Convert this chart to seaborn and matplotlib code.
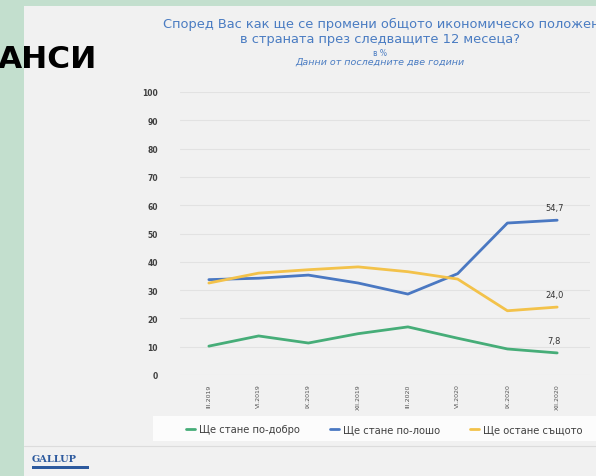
import pandas as pd
import seaborn as sns
import matplotlib.pyplot as plt
from matplotlib.patches import Rectangle

# Data
periods = ['III.2019', 'VI.2019', 'IX.2019', 'XII.2019', 'III.2020', 'VI.2020', 'IX.2020', 'XII.2020']
better = [10.2, 13.8, 11.3, 14.6, 17.0, 13.0, 9.2, 7.8]
worse = [33.7, 34.2, 35.3, 32.5, 28.6, 35.8, 53.7, 54.7]
same = [32.5, 36.0, 37.2, 38.2, 36.5, 33.9, 22.7, 24.0]
series_names = ['Ще стане по-добро', 'Ще стане по-лошо', 'Ще остане същото']
end_labels = ['7,8', '54,7', '24,0']

colors = {'Ще стане по-добро': '#46ad78',
          'Ще стане по-лошо': '#4a78c2',
          'Ще остане същото': '#f3c24a'}

df = pd.DataFrame({'idx': list(range(len(periods))) * 3,
                   'value': better + worse + same,
                   'series': [s for s in series_names for _ in periods]})

sns.set_theme(style='white')
plt.rcParams['font.family'] = ['DejaVu Sans']

fig = plt.figure(figsize=(5.96, 4.77), dpi=100)
fig.patch.set_facecolor('#c3dfce')

# slide background
fig.add_artist(Rectangle((24 / 596, 0), 1, 1 - 7 / 477, transform=fig.transFigure,
                         facecolor='#f1f1f1', edgecolor='none', zorder=-2))
# separator line above the logo
fig.add_artist(plt.Line2D([24 / 596, 1], [1 - 447 / 477] * 2, transform=fig.transFigure,
                          color='#dcdcdc', lw=0.8, zorder=-1))
# white strip behind the legend
fig.add_artist(Rectangle((153 / 596, 1 - 442 / 477), 1, 25 / 477, transform=fig.transFigure,
                         facecolor='white', edgecolor='none', alpha=0.85, zorder=-1))

ax = fig.add_axes([180 / 596, 1 - 376 / 477, 410 / 596, 283 / 477])
ax.set_facecolor('#f1f1f1')

sns.lineplot(data=df, x='idx', y='value', hue='series', palette=colors,
             linewidth=2.0, ax=ax, legend=True, sort=False)

ax.set_xlim(-0.58, 7.66)
ax.set_ylim(0, 100)
ax.set_yticks(range(0, 101, 10))
ax.set_yticklabels([str(v) for v in range(0, 101, 10)], fontsize=5.5, color='#404040',
                   fontweight='bold')
ax.set_xticks(range(len(periods)))
ax.set_xticklabels(periods, rotation=90, fontsize=4.5, color='#555555')
ax.tick_params(axis='y', pad=16, length=0)
ax.tick_params(axis='x', pad=6, length=0)
ax.set_xlabel('')
ax.set_ylabel('')
ax.grid(axis='y', color='#e2e2e2', linewidth=0.8)
for sp in ax.spines.values():
    sp.set_visible(False)

# end labels
last = len(periods) - 1
for vals, lab in zip([better, worse, same], end_labels):
    ax.annotate(lab, (last, vals[-1]), xytext=(-2, 6), textcoords='offset points',
                fontsize=6, color='#333333', ha='center', va='bottom')

# legend
handles, labels = ax.get_legend_handles_labels()
leg = ax.legend(handles, labels, ncol=3, loc='center left',
                bbox_to_anchor=(186 / 596, 1 - 430 / 477), bbox_transform=fig.transFigure,
                frameon=False, fontsize=7.2, handlelength=0.9, handletextpad=0.4,
                columnspacing=3.0, borderpad=0, borderaxespad=0)
for t in leg.get_texts():
    t.set_color('#404040')

# titles
blue = '#4a7cc2'
fig.text(163 / 596, 1 - 24 / 477, 'Според Вас как ще се промени общото икономическо положение',
         ha='left', va='center', fontsize=9.4, color=blue)
fig.text(380 / 596, 1 - 40 / 477, 'в страната през следващите 12 месеца?',
         ha='center', va='center', fontsize=9.4, color=blue)
fig.text(380 / 596, 1 - 53 / 477, 'в %', ha='center', va='center', fontsize=5.5, color=blue)
fig.text(380 / 596, 1 - 62 / 477, 'Данни от последните две години',
         ha='center', va='center', fontsize=6.8, color=blue, style='italic')

# overlapping heading fragment on the left
fig.text(97 / 596, 1 - 59 / 477, 'АНСИ', ha='right', va='center', fontsize=22.5,
         fontweight='heavy', color='black')

# logo
fig.text(32 / 596, 1 - 460 / 477, 'GALLUP', ha='left', va='center', fontsize=7,
         family='DejaVu Serif', fontweight='bold', color='#2d5a9e')
fig.add_artist(Rectangle((32 / 596, 1 - 470 / 477), 57 / 596, 3 / 477,
                         transform=fig.transFigure, facecolor='#2d5a9e', edgecolor='none'))

fig.savefig('out.png', dpi=100, facecolor=fig.get_facecolor())
